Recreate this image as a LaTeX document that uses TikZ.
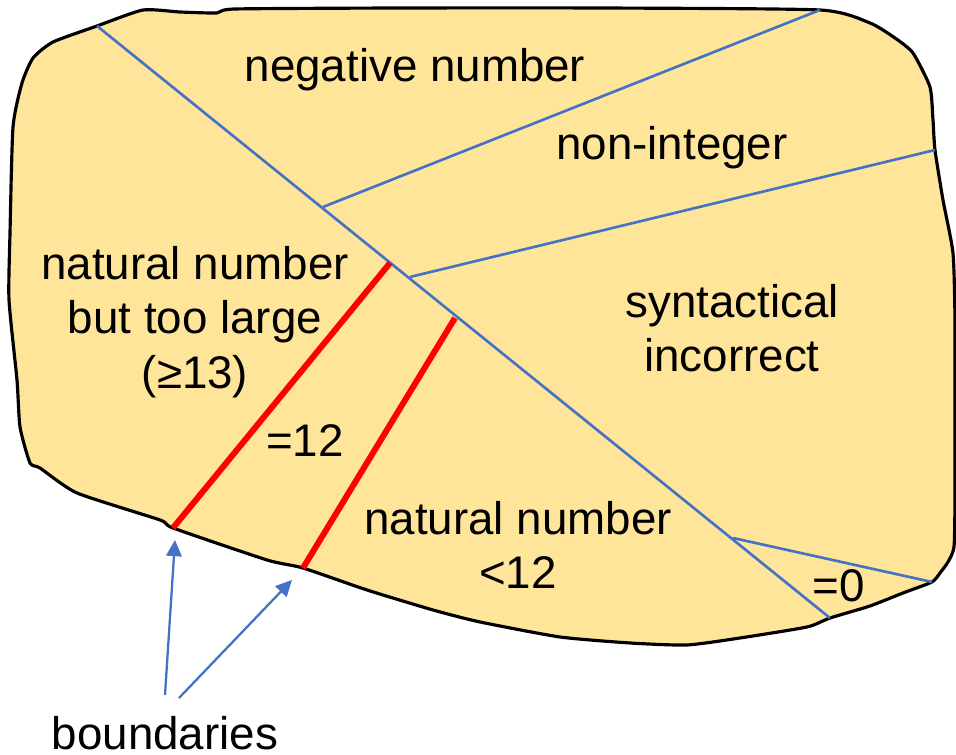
\documentclass[tikz,border=0pt]{standalone}
\usepackage{fontspec}
\setmainfont{Liberation Sans}
\usetikzlibrary{arrows.meta}
\definecolor{blobfill}{HTML}{FFE599}
\definecolor{lineblue}{HTML}{4472C4}

\begin{document}
\begin{tikzpicture}[x=0.01cm, y=-0.01cm, >={Triangle[length=4.6pt, width=4.4pt]},
    lbl/.style={font=\fontsize{13}{15.5}\selectfont, inner sep=0pt},
    part/.style={lineblue, line width=0.75pt},
    redline/.style={red, line width=1.7pt}]
  \useasboundingbox (0,0) rectangle (956,755);

  % Input domain
  \draw[line width=0.9pt, line join=round, fill=blobfill]
    plot[smooth cycle, tension=0.35] coordinates {
      (143,10) (180,12) (217,13) (235,9) (400,8) (600,8) (820,10)
      (870,23) (895,38) (913,53) (930,87) (933,120) (935,150) (943,200)
      (953,253) (955,320) (955,420) (955,500) (954,547) (948,562)
      (940,573) (932,582) (903,593) (870,606) (830,618) (807,627)
      (740,638) (687,645) (630,643) (560,637) (480,622) (433,610)
      (367,590) (303,568) (267,560) (173,528) (160,520) (77,493)
      (40,468) (30,463) (20,427) (17,380) (9,300) (10,233) (13,127)
      (22,83) (33,58) (53,42) (97,26)};

  % Partition lines
  \coordinate (tl) at (97,26);
  \coordinate (br) at (830,618);
  \coordinate (negA) at (323,207);
  \coordinate (negB) at (820,10);
  \coordinate (nonA) at (410,277);
  \coordinate (nonB) at (935,150);
  \coordinate (zeroA) at (733,538);
  \coordinate (zeroB) at (932,582);
  \draw[part] (tl) -- (br);
  \draw[part] (negA) -- (negB);
  \draw[part] (nonA) -- (nonB);
  \draw[part] (zeroA) -- (zeroB);

  % Boundaries
  \coordinate (r1a) at (390,263);
  \coordinate (r1b) at (173,528);
  \coordinate (r2a) at (455,318);
  \coordinate (r2b) at (303,568);
  \draw[redline] (r1a) -- (r1b);
  \draw[redline] (r2a) -- (r2b);

  % Labels
  \node[lbl, anchor=base] (neg) at (415,82) {negative number};
  \node[lbl, anchor=base] (nonint) at (672,160) {non-integer};
  \node[lbl, align=center] (large) at (195,322) {natural number\\but too large\\(≥13)};
  \node[lbl, align=center] (syn) at (732,328) {syntactical\\incorrect};
  \node[lbl, anchor=base] (twelve) at (305,457) {=12};
  \node[lbl, align=center] (small) at (518,545) {natural number\\<12};
  \node[lbl, anchor=base] (zero) at (839,602) {=0};
  \node[lbl, anchor=base] (bnd) at (165,750) {boundaries};

  % Pointers
  \coordinate (a1s) at (165,695);
  \coordinate (a1e) at (175,540);
  \coordinate (a2s) at (179,698);
  \coordinate (a2e) at (292,580);
  \draw[->, lineblue, line width=0.65pt] (a1s) -- (a1e);
  \draw[->, lineblue, line width=0.65pt] (a2s) -- (a2e);
\end{tikzpicture}
\end{document}
